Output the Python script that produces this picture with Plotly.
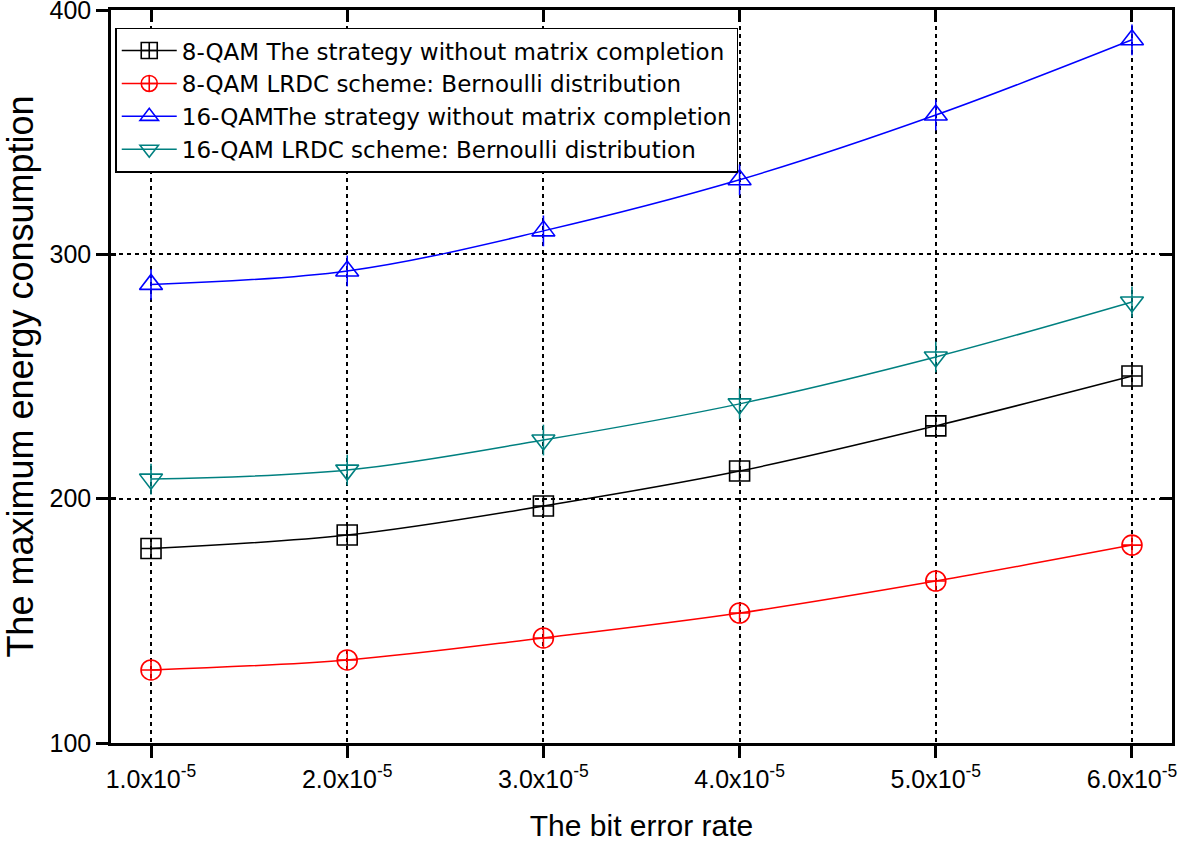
import plotly.graph_objects as go

ber = [1e-5, 2e-5, 3e-5, 4e-5, 5e-5, 6e-5]
tick_text = ["1.0x10<sup>-5</sup>", "2.0x10<sup>-5</sup>", "3.0x10<sup>-5</sup>",
             "4.0x10<sup>-5</sup>", "5.0x10<sup>-5</sup>", "6.0x10<sup>-5</sup>"]
y_ticks = [100, 200, 300, 400]

qam8_no_mc = [179.6, 185.1, 197.0, 211.3, 229.8, 250.2]
qam8_lrdc = [129.9, 134.0, 143.0, 153.2, 166.3, 181.0]
qam16_no_mc = [287.7, 293.2, 309.6, 330.5, 357.0, 387.8]
qam16_lrdc = [208.0, 211.7, 224.0, 238.8, 258.0, 280.5]

names = ["8-QAM The strategy without matrix completion",
         "8-QAM LRDC scheme: Bernoulli distribution",
         "16-QAMThe strategy without matrix completion",
         "16-QAM LRDC scheme: Bernoulli distribution"]
colors = ["#000000", "#ff0000", "#0000ff", "#008080"]
symbols = ["square-cross-open", "circle-cross-open", "triangle-up-open", "triangle-down-open"]
series = [qam8_no_mc, qam8_lrdc, qam16_no_mc, qam16_lrdc]

fig = go.Figure()
for name, col, sym, ys in zip(names, colors, symbols, series):
    fig.add_trace(go.Scatter(
        x=ber, y=ys, name=name, mode="lines+markers",
        line=dict(color=col, width=1.5, shape="spline"),
        marker=dict(symbol=sym, size=20, color=col, line=dict(color=col, width=1.6)),
    ))
# vertical bars through the triangles
for col, ys in zip(colors[2:], series[2:]):
    fig.add_trace(go.Scatter(
        x=ber, y=ys, mode="markers", showlegend=False, hoverinfo="skip",
        marker=dict(symbol="line-ns", size=22, color=col, line=dict(color=col, width=1.6)),
    ))

font = "Liberation Sans, Arial, sans-serif"
legend_font = "DejaVu Sans, Liberation Sans, sans-serif"
xr = [0.796e-5, 6.204e-5]
yr = [100, 400]
tick_style = dict(ticklen=12, tickwidth=2.5, tickcolor="black", showticklabels=False,
                  showgrid=False, zeroline=False, showline=False, automargin=False)

fig.update_layout(
    width=1178, height=842,
    margin=dict(l=111, r=6, t=10, b=99),
    paper_bgcolor="white", plot_bgcolor="white",
    font=dict(family=font, color="black"),
    legend=dict(x=0.004, y=0.976, xanchor="left", yanchor="top",
                bordercolor="black", borderwidth=1.5, bgcolor="white",
                font=dict(size=23, family=legend_font), tracegroupgap=0,
                itemwidth=55),
    xaxis=dict(
        range=xr, tickvals=ber, ticktext=tick_text, automargin=False,
        ticklabeloverflow="allow",
        showline=True, linecolor="black", linewidth=2.5, mirror=True,
        ticks="outside", ticklen=12, tickwidth=2.5, tickcolor="black",
        tickfont=dict(size=25, family=font),
        showgrid=True, gridcolor="black", gridwidth=1.5, griddash="4px,4px",
        zeroline=False,
        title=dict(text="The bit error rate", font=dict(size=30, family=font), standoff=28),
    ),
    yaxis=dict(
        range=yr, tickvals=y_ticks, automargin=False,
        ticklabeloverflow="allow",
        showline=True, linecolor="black", linewidth=2.5, mirror=True,
        ticks="outside", ticklen=12, tickwidth=2.5, tickcolor="black",
        tickfont=dict(size=25, family=font),
        showgrid=True, gridcolor="black", gridwidth=1.5, griddash="4px,4px",
        zeroline=False,
        title=dict(text="The maximum energy consumption", font=dict(size=36, family=font), standoff=8),
    ),
    xaxis2=dict(range=xr, tickvals=ber, overlaying="x", side="top", ticks="inside", **tick_style),
    yaxis2=dict(range=yr, tickvals=y_ticks, overlaying="y", side="right", ticks="inside", **tick_style),
    yaxis3=dict(range=yr, tickvals=y_ticks, overlaying="y", side="left", ticks="inside",
                **{**tick_style, "ticklen": 5}),
)
# invisible traces to activate the mirrored tick axes
fig.add_trace(go.Scatter(x=[ber[0]], y=[qam8_lrdc[0]], xaxis="x2", yaxis="y2",
                         mode="markers", marker=dict(opacity=0), showlegend=False,
                         hoverinfo="skip"))
fig.add_trace(go.Scatter(x=[ber[0]], y=[qam8_lrdc[0]], xaxis="x", yaxis="y3",
                         mode="markers", marker=dict(opacity=0), showlegend=False,
                         hoverinfo="skip"))

fig.write_html("out.html", config={"displayModeBar": False},
               post_script="document.body.style.margin='0px';")
